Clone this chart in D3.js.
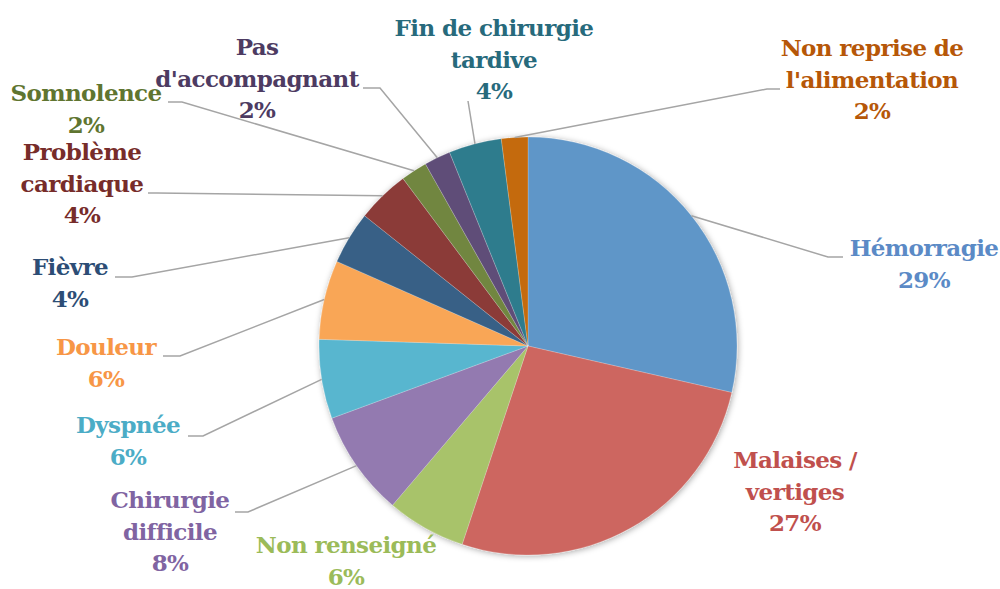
<!DOCTYPE html>
<html>
<head>
<meta charset="utf-8">
<script src="https://cdn.jsdelivr.net/npm/d3@7"></script>
<style>
  html, body { margin: 0; padding: 0; background: #fff; }
  .lbl { font-family: "DejaVu Serif", serif; font-weight: bold; font-size: 23px; letter-spacing: -0.6px; }
</style>
</head>
<body>
<div class="vis"></div>
<script>
// slice data, clockwise from 12 o'clock
const categories = [
  "Hémorragie", "Malaises /\nvertiges", "Non renseigné", "Chirurgie\ndifficile",
  "Dyspnée", "Douleur", "Fièvre", "Problème\ncardiaque", "Somnolence",
  "Pas\nd'accompagnant", "Fin de chirurgie\ntardive", "Non reprise de\nl'alimentation"
];
const counts = [14, 13, 3, 4, 3, 3, 2, 2, 1, 1, 2, 1];

const sliceColors = [
  "#5f96c8", "#cd6660", "#a8c36a", "#937ab0", "#59b6cf", "#f9a656",
  "#376186", "#8b3a38", "#718640", "#5f4e78", "#2e7b8d", "#c46a07"
];
const textColors = [
  "#5b8ac6", "#c0504d", "#9bbb59", "#8064a2", "#4bacc6", "#f79646",
  "#2c4d75", "#772c2a", "#5f7530", "#4d3b62", "#276a7c", "#b65708"
];

// label placement (x centre, first baseline, leader elbow, leader end)
const labelPos = [
  { x: 924, y: 256, ex: 828, ey: 257, hx: 843 },
  { x: 795, y: 468 },
  { x: 346, y: 553 },
  { x: 170, y: 508, ex: 248, ey: 512, hx: 235 },
  { x: 128, y: 433, ex: 203, ey: 436, hx: 188 },
  { x: 106, y: 355, ex: 180, ey: 356, hx: 163 },
  { x: 70, y: 275, ex: 132, ey: 277, hx: 115 },
  { x: 82, y: 160, ex: 157, ey: 193, hx: 148 },
  { x: 86, y: 101, ex: 182, ey: 102, hx: 168 },
  { x: 257, y: 55, ex: 380, ey: 88, hx: 363 },
  { x: 494, y: 36, ex: 468, ey: 101, hx: 468 },
  { x: 872, y: 56, ex: 767, ey: 89, hx: 780 }
];

const width = 1000, height = 589;
const cx = 528, cy = 346, r = 209;
const lineH = 31.7;

const data = categories.map((c, i) => ({ name: c, value: counts[i], i: i }));
const total = d3.sum(counts);
const fmt = d3.format(".0%");

const svg = d3.select(".vis").append("svg")
  .attr("width", width).attr("height", height);

const defs = svg.append("defs");
defs.append("filter").attr("id", "shadow")
  .attr("x", "-10%").attr("y", "-10%").attr("width", "120%").attr("height", "120%")
  .append("feDropShadow")
  .attr("dx", 1).attr("dy", 1).attr("stdDeviation", 3)
  .attr("flood-color", "#000").attr("flood-opacity", 0.35);

const pie = d3.pie().sort(null).value(d => d.value);
const arcs = pie(data);
const arc = d3.arc().innerRadius(0).outerRadius(r);

const g = svg.append("g").attr("transform", "translate(" + cx + "," + cy + ")");

g.append("g").attr("filter", "url(#shadow)")
  .selectAll("path")
  .data(arcs)
  .join("path")
  .attr("d", arc)
  .attr("fill", d => sliceColors[d.data.i])
  .attr("stroke", "rgba(255,255,255,0.35)")
  .attr("stroke-width", 0.6);

// leader lines
const edge = d3.arc().innerRadius(r).outerRadius(r);
svg.append("g")
  .selectAll("polyline")
  .data(arcs.filter(d => labelPos[d.data.i].ex !== undefined))
  .join("polyline")
  .attr("fill", "none")
  .attr("stroke", "#a5a5a5")
  .attr("stroke-width", 1.5)
  .attr("points", d => {
    const p = labelPos[d.data.i];
    const c = edge.centroid(d);
    return [[cx + c[0], cy + c[1]], [p.ex, p.ey], [p.hx, p.ey]].join(" ");
  });

// labels
const lbl = svg.append("g")
  .selectAll("text")
  .data(arcs)
  .join("text")
  .attr("class", "lbl")
  .attr("text-anchor", "middle")
  .attr("fill", d => textColors[d.data.i]);

lbl.each(function (d) {
  const p = labelPos[d.data.i];
  const lines = d.data.name.split("\n").concat([fmt(d.data.value / total)]);
  d3.select(this).selectAll("tspan")
    .data(lines)
    .join("tspan")
    .attr("x", p.x)
    .attr("y", (t, k) => p.y + k * lineH)
    .text(t => t);
});
</script>
</body>
</html>
